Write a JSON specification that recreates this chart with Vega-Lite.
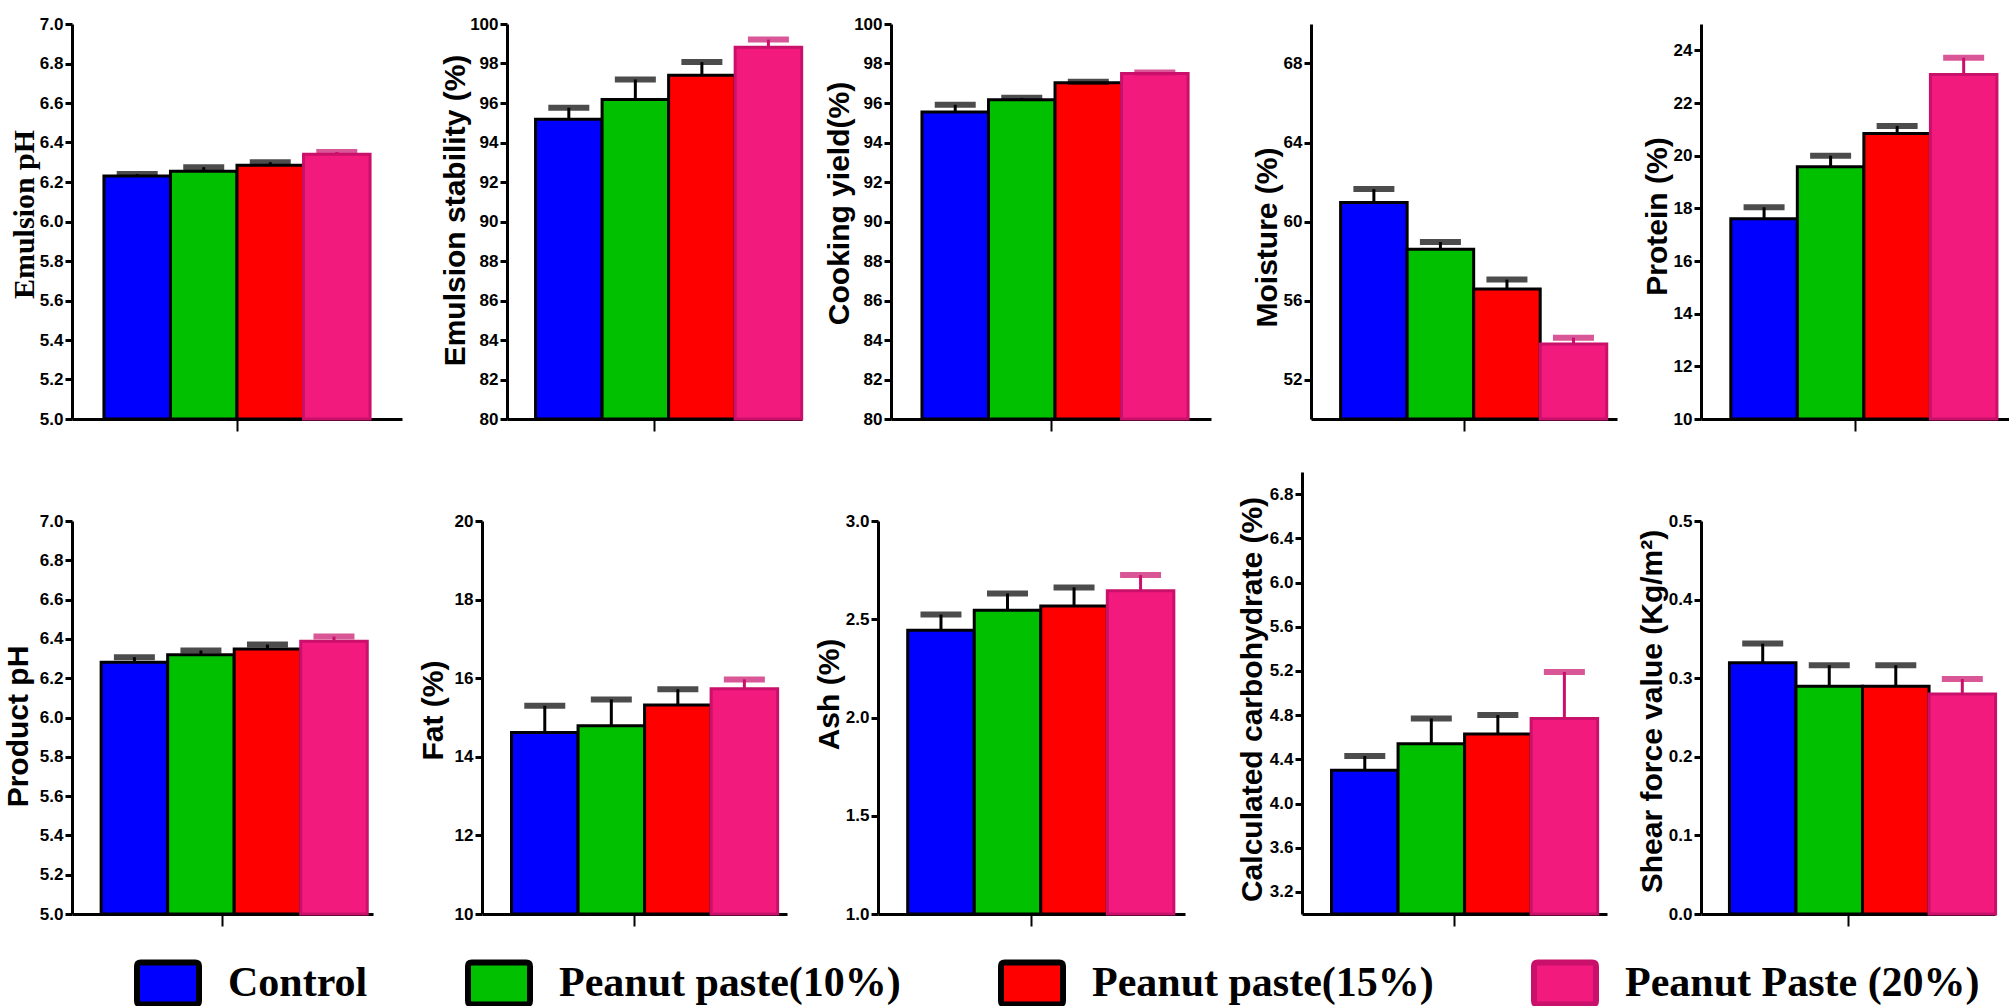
{
  "$schema": "https://vega.github.io/schema/vega-lite/v6.json",
  "padding": {"left": 3, "top": 15, "right": 0, "bottom": 0},
  "background": "white",
  "data": {"values": [
    {"panel": "Emulsion pH", "group": "Control", "mean": 6.23, "upper": 6.24},
    {"panel": "Emulsion pH", "group": "Peanut paste(10%)", "mean": 6.255, "upper": 6.275},
    {"panel": "Emulsion pH", "group": "Peanut paste(15%)", "mean": 6.285, "upper": 6.30},
    {"panel": "Emulsion pH", "group": "Peanut Paste (20%)", "mean": 6.34, "upper": 6.352},
    {"panel": "Emulsion stability (%)", "group": "Control", "mean": 95.18, "upper": 95.76},
    {"panel": "Emulsion stability (%)", "group": "Peanut paste(10%)", "mean": 96.18, "upper": 97.19},
    {"panel": "Emulsion stability (%)", "group": "Peanut paste(15%)", "mean": 97.41, "upper": 98.07},
    {"panel": "Emulsion stability (%)", "group": "Peanut Paste (20%)", "mean": 98.82, "upper": 99.21},
    {"panel": "Cooking yield(%)", "group": "Control", "mean": 95.54, "upper": 95.91},
    {"panel": "Cooking yield(%)", "group": "Peanut paste(10%)", "mean": 96.17, "upper": 96.26},
    {"panel": "Cooking yield(%)", "group": "Peanut paste(15%)", "mean": 97.02, "upper": 97.07},
    {"panel": "Cooking yield(%)", "group": "Peanut Paste (20%)", "mean": 97.5, "upper": 97.55},
    {"panel": "Moisture (%)", "group": "Control", "mean": 60.96, "upper": 61.64},
    {"panel": "Moisture (%)", "group": "Peanut paste(10%)", "mean": 58.59, "upper": 58.96},
    {"panel": "Moisture (%)", "group": "Peanut paste(15%)", "mean": 56.58, "upper": 57.06},
    {"panel": "Moisture (%)", "group": "Peanut Paste (20%)", "mean": 53.8, "upper": 54.12},
    {"panel": "Protein (%)", "group": "Control", "mean": 17.6, "upper": 18.04},
    {"panel": "Protein (%)", "group": "Peanut paste(10%)", "mean": 19.58, "upper": 20.0},
    {"panel": "Protein (%)", "group": "Peanut paste(15%)", "mean": 20.84, "upper": 21.13},
    {"panel": "Protein (%)", "group": "Peanut Paste (20%)", "mean": 23.08, "upper": 23.72},
    {"panel": "Product pH", "group": "Control", "mean": 6.281, "upper": 6.307},
    {"panel": "Product pH", "group": "Peanut paste(10%)", "mean": 6.319, "upper": 6.341},
    {"panel": "Product pH", "group": "Peanut paste(15%)", "mean": 6.349, "upper": 6.371},
    {"panel": "Product pH", "group": "Peanut Paste (20%)", "mean": 6.388, "upper": 6.412},
    {"panel": "Fat (%)", "group": "Control", "mean": 14.62, "upper": 15.30},
    {"panel": "Fat (%)", "group": "Peanut paste(10%)", "mean": 14.79, "upper": 15.46},
    {"panel": "Fat (%)", "group": "Peanut paste(15%)", "mean": 15.32, "upper": 15.72},
    {"panel": "Fat (%)", "group": "Peanut Paste (20%)", "mean": 15.73, "upper": 15.97},
    {"panel": "Ash (%)", "group": "Control", "mean": 2.444, "upper": 2.524},
    {"panel": "Ash (%)", "group": "Peanut paste(10%)", "mean": 2.546, "upper": 2.631},
    {"panel": "Ash (%)", "group": "Peanut paste(15%)", "mean": 2.567, "upper": 2.662},
    {"panel": "Ash (%)", "group": "Peanut Paste (20%)", "mean": 2.645, "upper": 2.725},
    {"panel": "Calculated carbohydrate (%)", "group": "Control", "mean": 4.30, "upper": 4.43},
    {"panel": "Calculated carbohydrate (%)", "group": "Peanut paste(10%)", "mean": 4.54, "upper": 4.77},
    {"panel": "Calculated carbohydrate (%)", "group": "Peanut paste(15%)", "mean": 4.63, "upper": 4.80},
    {"panel": "Calculated carbohydrate (%)", "group": "Peanut Paste (20%)", "mean": 4.77, "upper": 5.19},
    {"panel": "Shear force value (Kg/m²)", "group": "Control", "mean": 0.3195, "upper": 0.344},
    {"panel": "Shear force value (Kg/m²)", "group": "Peanut paste(10%)", "mean": 0.2896, "upper": 0.3165},
    {"panel": "Shear force value (Kg/m²)", "group": "Peanut paste(15%)", "mean": 0.2896, "upper": 0.3165},
    {"panel": "Shear force value (Kg/m²)", "group": "Peanut Paste (20%)", "mean": 0.280, "upper": 0.299}
  ]},
  "vconcat": [
    {
      "hconcat": [
        {
          "width": 351, "height": 395,
          "transform": [{"filter": {"field": "panel", "equal": "Emulsion pH"}}],
          "encoding": {
            "x": {"field": "panel", "type": "nominal", "title": null, "scale": {"range": [0, 330], "paddingInner": 0, "paddingOuter": 0.12}},
            "xOffset": {"field": "group", "type": "nominal", "sort": ["Control", "Peanut paste(10%)", "Peanut paste(15%)", "Peanut Paste (20%)"], "scale": {"paddingInner": 0, "paddingOuter": 0}},
            "y": {"field": "mean", "type": "quantitative", "scale": {"domain": [5, 7], "zero": false, "nice": false, "clamp": true}, "axis": {"title": "Emulsion pH", "values": [5, 5.2, 5.4, 5.6, 5.8, 6, 6.2, 6.4, 6.6, 6.8, 7], "format": ".1f", "titleX": -48, "titleY": 190, "titleFont": "Liberation Serif", "titleFontSize": 30}}
          },
          "layer": [
            {"mark": {"type": "bar", "strokeWidth": 3},
             "encoding": {
               "color": {"field": "group", "type": "nominal", "sort": ["Control", "Peanut paste(10%)", "Peanut paste(15%)", "Peanut Paste (20%)"], "scale": {"domain": ["Control", "Peanut paste(10%)", "Peanut paste(15%)", "Peanut Paste (20%)"], "range": ["#0000ff", "#00c000", "#ff0000", "#f31a7e"]},
                 "legend": {"orient": "none", "legendX": 62, "legendY": 925, "direction": "horizontal", "title": null, "symbolType": "M-0.88,-0.68L0.88,-0.68Q1,-0.68 1,-0.56L1,0.56Q1,0.68 0.88,0.68L-0.88,0.68Q-1,0.68 -1,0.56L-1,-0.56Q-1,-0.68 -0.88,-0.68Z", "symbolSize": 3844, "symbolStrokeWidth": 6, "symbolOpacity": 1, "labelFont": "Liberation Serif", "labelFontWeight": "bold", "labelFontSize": 42, "labelColor": "#000000", "labelOffset": 26, "columnPadding": 88, "labelLimit": 1000}},
               "stroke": {"field": "group", "type": "nominal", "sort": ["Control", "Peanut paste(10%)", "Peanut paste(15%)", "Peanut Paste (20%)"], "scale": {"domain": ["Control", "Peanut paste(10%)", "Peanut paste(15%)", "Peanut Paste (20%)"], "range": ["#000000", "#000000", "#000000", "#c9106a"]},
                 "legend": {"orient": "none", "legendX": 62, "legendY": 925, "direction": "horizontal", "title": null, "symbolType": "M-0.88,-0.68L0.88,-0.68Q1,-0.68 1,-0.56L1,0.56Q1,0.68 0.88,0.68L-0.88,0.68Q-1,0.68 -1,0.56L-1,-0.56Q-1,-0.68 -0.88,-0.68Z", "symbolSize": 3844, "symbolStrokeWidth": 6, "symbolOpacity": 1, "labelFont": "Liberation Serif", "labelFontWeight": "bold", "labelFontSize": 42, "labelColor": "#000000", "labelOffset": 26, "columnPadding": 88, "labelLimit": 1000}}
             }},
            {"mark": {"type": "rule", "strokeWidth": 3}, "encoding": {"y2": {"field": "upper"}, "stroke": {"field": "group", "type": "nominal"}}},
            {"mark": {"type": "tick", "filled": false, "thickness": 1, "size": 36, "strokeWidth": 5}, "encoding": {"y": {"field": "upper", "type": "quantitative"}, "stroke": {"field": "group", "type": "nominal"}}}
          ]
        },
        {
          "width": 300, "height": 395,
          "transform": [{"filter": {"field": "panel", "equal": "Emulsion stability (%)"}}],
          "encoding": {
            "x": {"field": "panel", "type": "nominal", "title": null, "scale": {"range": [0, 295], "paddingInner": 0, "paddingOuter": 0.12}},
            "xOffset": {"field": "group", "type": "nominal", "sort": ["Control", "Peanut paste(10%)", "Peanut paste(15%)", "Peanut Paste (20%)"], "scale": {"paddingInner": 0, "paddingOuter": 0}},
            "y": {"field": "mean", "type": "quantitative", "scale": {"domain": [80, 100], "zero": false, "nice": false, "clamp": true}, "axis": {"title": "Emulsion stability (%)", "values": [80, 82, 84, 86, 88, 90, 92, 94, 96, 98, 100], "titleX": -52, "titleY": 186}}
          },
          "layer": [
            {"mark": {"type": "bar", "strokeWidth": 3}, "encoding": {"color": {"field": "group", "type": "nominal"}, "stroke": {"field": "group", "type": "nominal"}}},
            {"mark": {"type": "rule", "strokeWidth": 3}, "encoding": {"y2": {"field": "upper"}, "stroke": {"field": "group", "type": "nominal"}}},
            {"mark": {"type": "tick", "filled": false, "thickness": 1, "size": 36, "strokeWidth": 5}, "encoding": {"y": {"field": "upper", "type": "quantitative"}, "stroke": {"field": "group", "type": "nominal"}}}
          ]
        },
        {
          "width": 336, "height": 395,
          "transform": [{"filter": {"field": "panel", "equal": "Cooking yield(%)"}}],
          "encoding": {
            "x": {"field": "panel", "type": "nominal", "title": null, "scale": {"range": [0, 320], "paddingInner": 0, "paddingOuter": 0.12}},
            "xOffset": {"field": "group", "type": "nominal", "sort": ["Control", "Peanut paste(10%)", "Peanut paste(15%)", "Peanut Paste (20%)"], "scale": {"paddingInner": 0, "paddingOuter": 0}},
            "y": {"field": "mean", "type": "quantitative", "scale": {"domain": [80, 100], "zero": false, "nice": false, "clamp": true}, "axis": {"title": "Cooking yield(%)", "values": [80, 82, 84, 86, 88, 90, 92, 94, 96, 98, 100], "titleX": -52, "titleY": 179}}
          },
          "layer": [
            {"mark": {"type": "bar", "strokeWidth": 3}, "encoding": {"color": {"field": "group", "type": "nominal"}, "stroke": {"field": "group", "type": "nominal"}}},
            {"mark": {"type": "rule", "strokeWidth": 3}, "encoding": {"y2": {"field": "upper"}, "stroke": {"field": "group", "type": "nominal"}}},
            {"mark": {"type": "tick", "filled": false, "thickness": 1, "size": 36, "strokeWidth": 5}, "encoding": {"y": {"field": "upper", "type": "quantitative"}, "stroke": {"field": "group", "type": "nominal"}}}
          ]
        },
        {
          "width": 306, "height": 395,
          "transform": [{"filter": {"field": "panel", "equal": "Moisture (%)"}}],
          "encoding": {
            "x": {"field": "panel", "type": "nominal", "title": null, "scale": {"range": [0, 306], "paddingInner": 0, "paddingOuter": 0.12}},
            "xOffset": {"field": "group", "type": "nominal", "sort": ["Control", "Peanut paste(10%)", "Peanut paste(15%)", "Peanut Paste (20%)"], "scale": {"paddingInner": 0, "paddingOuter": 0}},
            "y": {"field": "mean", "type": "quantitative", "scale": {"domain": [50, 70], "zero": false, "nice": false, "clamp": true}, "axis": {"title": "Moisture (%)", "values": [52, 56, 60, 64, 68], "titleX": -44, "titleY": 213}}
          },
          "layer": [
            {"mark": {"type": "bar", "strokeWidth": 3}, "encoding": {"color": {"field": "group", "type": "nominal"}, "stroke": {"field": "group", "type": "nominal"}}},
            {"mark": {"type": "rule", "strokeWidth": 3}, "encoding": {"y2": {"field": "upper"}, "stroke": {"field": "group", "type": "nominal"}}},
            {"mark": {"type": "tick", "filled": false, "thickness": 1, "size": 36, "strokeWidth": 5}, "encoding": {"y": {"field": "upper", "type": "quantitative"}, "stroke": {"field": "group", "type": "nominal"}}}
          ]
        },
        {
          "width": 308, "height": 395,
          "transform": [{"filter": {"field": "panel", "equal": "Protein (%)"}}],
          "encoding": {
            "x": {"field": "panel", "type": "nominal", "title": null, "scale": {"range": [0, 308], "paddingInner": 0, "paddingOuter": 0.12}},
            "xOffset": {"field": "group", "type": "nominal", "sort": ["Control", "Peanut paste(10%)", "Peanut paste(15%)", "Peanut Paste (20%)"], "scale": {"paddingInner": 0, "paddingOuter": 0}},
            "y": {"field": "mean", "type": "quantitative", "scale": {"domain": [10, 25], "zero": false, "nice": false, "clamp": true}, "axis": {"title": "Protein (%)", "values": [10, 12, 14, 16, 18, 20, 22, 24], "titleX": -44, "titleY": 192}}
          },
          "layer": [
            {"mark": {"type": "bar", "strokeWidth": 3}, "encoding": {"color": {"field": "group", "type": "nominal"}, "stroke": {"field": "group", "type": "nominal"}}},
            {"mark": {"type": "rule", "strokeWidth": 3}, "encoding": {"y2": {"field": "upper"}, "stroke": {"field": "group", "type": "nominal"}}},
            {"mark": {"type": "tick", "filled": false, "thickness": 1, "size": 36, "strokeWidth": 5}, "encoding": {"y": {"field": "upper", "type": "quantitative"}, "stroke": {"field": "group", "type": "nominal"}}}
          ]
        }
      ],
      "spacing": 84,
      "bounds": "flush"
    },
    {
      "hconcat": [
        {
          "width": 326, "height": 442,
          "transform": [{"filter": {"field": "panel", "equal": "Product pH"}}],
          "encoding": {
            "x": {"field": "panel", "type": "nominal", "title": null, "scale": {"range": [0, 301], "paddingInner": 0, "paddingOuter": 0.12}},
            "xOffset": {"field": "group", "type": "nominal", "sort": ["Control", "Peanut paste(10%)", "Peanut paste(15%)", "Peanut Paste (20%)"], "scale": {"paddingInner": 0, "paddingOuter": 0}},
            "y": {"field": "mean", "type": "quantitative", "scale": {"domain": [5, 7], "zero": false, "nice": false, "clamp": true, "range": [442, 49]}, "axis": {"title": "Product pH", "values": [5, 5.2, 5.4, 5.6, 5.8, 6, 6.2, 6.4, 6.6, 6.8, 7], "format": ".1f", "titleX": -54, "titleY": 254}}
          },
          "layer": [
            {"mark": {"type": "bar", "strokeWidth": 3}, "encoding": {"color": {"field": "group", "type": "nominal"}, "stroke": {"field": "group", "type": "nominal"}}},
            {"mark": {"type": "rule", "strokeWidth": 3}, "encoding": {"y2": {"field": "upper"}, "stroke": {"field": "group", "type": "nominal"}}},
            {"mark": {"type": "tick", "filled": false, "thickness": 1, "size": 36, "strokeWidth": 5}, "encoding": {"y": {"field": "upper", "type": "quantitative"}, "stroke": {"field": "group", "type": "nominal"}}}
          ]
        },
        {
          "width": 312, "height": 442,
          "transform": [{"filter": {"field": "panel", "equal": "Fat (%)"}}],
          "encoding": {
            "x": {"field": "panel", "type": "nominal", "title": null, "scale": {"range": [0, 305], "paddingInner": 0, "paddingOuter": 0.12}},
            "xOffset": {"field": "group", "type": "nominal", "sort": ["Control", "Peanut paste(10%)", "Peanut paste(15%)", "Peanut Paste (20%)"], "scale": {"paddingInner": 0, "paddingOuter": 0}},
            "y": {"field": "mean", "type": "quantitative", "scale": {"domain": [10, 20], "zero": false, "nice": false, "clamp": true, "range": [442, 49]}, "axis": {"title": "Fat (%)", "values": [10, 12, 14, 16, 18, 20], "titleX": -49, "titleY": 238}}
          },
          "layer": [
            {"mark": {"type": "bar", "strokeWidth": 3}, "encoding": {"color": {"field": "group", "type": "nominal"}, "stroke": {"field": "group", "type": "nominal"}}},
            {"mark": {"type": "rule", "strokeWidth": 3}, "encoding": {"y2": {"field": "upper"}, "stroke": {"field": "group", "type": "nominal"}}},
            {"mark": {"type": "tick", "filled": false, "thickness": 1, "size": 36, "strokeWidth": 5}, "encoding": {"y": {"field": "upper", "type": "quantitative"}, "stroke": {"field": "group", "type": "nominal"}}}
          ]
        },
        {
          "width": 340, "height": 442,
          "transform": [{"filter": {"field": "panel", "equal": "Ash (%)"}}],
          "encoding": {
            "x": {"field": "panel", "type": "nominal", "title": null, "scale": {"range": [0, 307], "paddingInner": 0, "paddingOuter": 0.12}},
            "xOffset": {"field": "group", "type": "nominal", "sort": ["Control", "Peanut paste(10%)", "Peanut paste(15%)", "Peanut Paste (20%)"], "scale": {"paddingInner": 0, "paddingOuter": 0}},
            "y": {"field": "mean", "type": "quantitative", "scale": {"domain": [1, 3], "zero": false, "nice": false, "clamp": true, "range": [442, 49]}, "axis": {"title": "Ash (%)", "values": [1, 1.5, 2, 2.5, 3], "format": ".1f", "titleX": -49, "titleY": 222}}
          },
          "layer": [
            {"mark": {"type": "bar", "strokeWidth": 3}, "encoding": {"color": {"field": "group", "type": "nominal"}, "stroke": {"field": "group", "type": "nominal"}}},
            {"mark": {"type": "rule", "strokeWidth": 3}, "encoding": {"y2": {"field": "upper"}, "stroke": {"field": "group", "type": "nominal"}}},
            {"mark": {"type": "tick", "filled": false, "thickness": 1, "size": 36, "strokeWidth": 5}, "encoding": {"y": {"field": "upper", "type": "quantitative"}, "stroke": {"field": "group", "type": "nominal"}}}
          ]
        },
        {
          "width": 315, "height": 442,
          "transform": [{"filter": {"field": "panel", "equal": "Calculated carbohydrate (%)"}}],
          "encoding": {
            "x": {"field": "panel", "type": "nominal", "title": null, "scale": {"range": [0, 305], "paddingInner": 0, "paddingOuter": 0.12}},
            "xOffset": {"field": "group", "type": "nominal", "sort": ["Control", "Peanut paste(10%)", "Peanut paste(15%)", "Peanut Paste (20%)"], "scale": {"paddingInner": 0, "paddingOuter": 0}},
            "y": {"field": "mean", "type": "quantitative", "scale": {"domain": [3, 7], "zero": false, "nice": false, "clamp": true}, "axis": {"title": "Calculated carbohydrate (%)", "values": [3.2, 3.6, 4.0, 4.4, 4.8, 5.2, 5.6, 6.0, 6.4, 6.8], "format": ".1f", "titleX": -50, "titleY": 227}}
          },
          "layer": [
            {"mark": {"type": "bar", "strokeWidth": 3}, "encoding": {"color": {"field": "group", "type": "nominal"}, "stroke": {"field": "group", "type": "nominal"}}},
            {"mark": {"type": "rule", "strokeWidth": 3}, "encoding": {"y2": {"field": "upper"}, "stroke": {"field": "group", "type": "nominal"}}},
            {"mark": {"type": "tick", "filled": false, "thickness": 1, "size": 36, "strokeWidth": 5}, "encoding": {"y": {"field": "upper", "type": "quantitative"}, "stroke": {"field": "group", "type": "nominal"}}}
          ]
        },
        {
          "width": 290, "height": 442,
          "transform": [{"filter": {"field": "panel", "equal": "Shear force value (Kg/m²)"}}],
          "encoding": {
            "x": {"field": "panel", "type": "nominal", "title": null, "scale": {"range": [0, 294], "paddingInner": 0, "paddingOuter": 0.12}},
            "xOffset": {"field": "group", "type": "nominal", "sort": ["Control", "Peanut paste(10%)", "Peanut paste(15%)", "Peanut Paste (20%)"], "scale": {"paddingInner": 0, "paddingOuter": 0}},
            "y": {"field": "mean", "type": "quantitative", "scale": {"domain": [0, 0.5], "zero": false, "nice": false, "clamp": true, "range": [442, 49]}, "axis": {"title": "Shear force value (Kg/m²)", "values": [0, 0.1, 0.2, 0.3, 0.4, 0.5], "format": ".1f", "titleX": -49, "titleY": 239}}
          },
          "layer": [
            {"mark": {"type": "bar", "strokeWidth": 3}, "encoding": {"color": {"field": "group", "type": "nominal"}, "stroke": {"field": "group", "type": "nominal"}}},
            {"mark": {"type": "rule", "strokeWidth": 3}, "encoding": {"y2": {"field": "upper"}, "stroke": {"field": "group", "type": "nominal"}}},
            {"mark": {"type": "tick", "filled": false, "thickness": 1, "size": 36, "strokeWidth": 5}, "encoding": {"y": {"field": "upper", "type": "quantitative"}, "stroke": {"field": "group", "type": "nominal"}}}
          ]
        }
      ],
      "spacing": 84,
      "bounds": "flush"
    }
  ],
  "spacing": 40,
  "config": {
    "view": {"stroke": null},
    "axis": {"grid": false, "domainColor": "#000000", "tickColor": "#000000", "labelColor": "#000000", "titleColor": "#000000"},
    "axisY": {"domainWidth": 3, "tickWidth": 3, "tickSize": 7, "labelFont": "Liberation Sans Narrow, Arial Narrow, Liberation Sans, sans-serif", "labelFontSize": 17, "labelFontWeight": "bold", "labelPadding": 2, "titleFont": "Liberation Sans", "titleFontSize": 30, "titleFontWeight": "bold", "titleBaseline": "middle", "titleAngle": -90},
    "axisX": {"domainWidth": 3, "tickWidth": 2, "tickSize": 12, "labels": false}
  }
}
